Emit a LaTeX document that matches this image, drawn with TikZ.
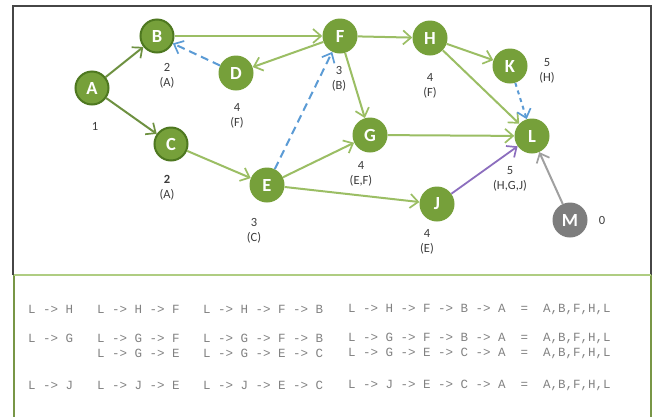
\documentclass[tikz,border=0pt]{standalone}
\usepackage{fontspec}
\setmainfont{Carlito}
\newfontfamily\codefont{Liberation Mono}
\usetikzlibrary{arrows.meta}
\definecolor{nodegreen}{RGB}{118,160,58}
\definecolor{rimgreen}{RGB}{78,120,32}
\definecolor{edgegreen}{RGB}{155,190,100}
\definecolor{edgedark}{RGB}{110,145,65}
\definecolor{linkblue}{RGB}{91,155,213}
\definecolor{linkpurple}{RGB}{140,110,190}
\definecolor{nodegray}{RGB}{125,125,125}
\definecolor{edgegray}{RGB}{160,160,160}
\definecolor{labelgray}{RGB}{60,60,60}
\definecolor{framegray}{RGB}{70,70,70}
\definecolor{boxgreen}{RGB}{120,150,70}
\definecolor{boxlight}{RGB}{175,205,130}
\definecolor{codegray}{RGB}{130,130,130}
\tikzset{
  task/.style={circle, fill=nodegreen, minimum size=35pt, inner sep=0pt,
    text=white, font=\fontsize{18.5}{18}\selectfont\bfseries},
  rimtask/.style={task, draw=rimgreen, line width=2pt, minimum size=33pt},
  greytask/.style={task, fill=nodegray},
  info/.style={font=\fontsize{12.5}{15}\selectfont, text=labelgray, align=center, inner sep=0pt},
  tip/.style={-{Straight Barb[length=8pt,width=14pt,line width=1.7pt]}},
  link/.style={tip, draw=edgegreen, line width=2pt},
  darklink/.style={tip, draw=edgedark, line width=2pt},
  bluelink/.style={tip, draw=linkblue, line width=2pt, dash pattern=on 8pt off 5pt},
  dotlink/.style={tip, draw=linkblue, line width=2pt, dash pattern=on 4pt off 4pt},
  purplelink/.style={tip, draw=linkpurple, line width=1.8pt},
  graylink/.style={tip, draw=edgegray, line width=2pt},
  pathrow/.style={font=\codefont\fontsize{12.5}{13}\selectfont, text=codegray, anchor=west, inner sep=0pt},
}
\begin{document}
\begin{tikzpicture}[x=1pt, y=-1pt]
\useasboundingbox (0,0) rectangle (656,416);
\fill[white] (0,0) rectangle (656,416);

% frames
\draw[framegray, line width=2.2pt] (13,275) -- (13,6) -- (651,6) -- (651,275);
\draw[boxgreen, line width=2.2pt] (14,420) -- (14,275) (651,275) -- (651,420);
\draw[boxlight, line width=2.5pt] (14,275) -- (651,275);

% tasks
\node[rimtask]  (A) at (92,88)   {A};
\node[rimtask]  (B) at (157,36)  {B};
\node[rimtask]  (C) at (171,144) {C};
\node[task]     (D) at (236,73)  {D};
\node[task]     (E) at (267,185) {E};
\node[task]     (F) at (340,36)  {F};
\node[task]     (H) at (430,38)  {H};
\node[task]     (K) at (510,66)  {K};
\node[task]     (G) at (370,135) {G};
\node[task]     (L) at (532,136) {L};
\node[task]     (J) at (437,204) {J};
\node[greytask] (M) at (570,220) {M};

% durations and predecessors
\node[info] (tA) at (95,126)  {1};
\node[info] (tB) at (167,76)  {2\\(A)};
\node[info] (tC) at (167,188) {\textbf{2}\\(A)};
\node[info] (tD) at (237,116) {4\\(F)};
\node[info] (tE) at (254,231) {3\\(C)};
\node[info] (tF) at (339,79)  {3\\(B)};
\node[info] (tH) at (430,86)  {4\\(F)};
\node[info] (tK) at (547,71)  {5\\(H)};
\node[info] (tG) at (361,174) {4\\(E,F)};
\node[info] (tL) at (510,179) {5\\(H,G,J)};
\node[info] (tJ) at (427,242) {4\\(E)};
\node[info] (tM) at (602,220) {0};

% dependencies
\draw[darklink] (A) -- (B);
\draw[darklink] (A) -- (C);
\draw[link] (B) -- (F);
\draw[link] (F) -- (D);
\draw[bluelink] (D) -- (B);
\draw[link] (C) -- (E);
\draw[bluelink] (E) -- (F);
\draw[link] (E) -- (G);
\draw[link] (E) -- (J);
\draw[link] (F) -- (H);
\draw[link] (F) -- (G);
\draw[link] (H) -- (K);
\draw[link] (H) -- (L);
\draw[link] (G) -- (L);
\draw[purplelink] (J) -- (L);
\draw[dotlink] (K) -- (L);
\draw[graylink] (M) -- (L);

% backward paths from L
\node[pathrow] (r1a) at (28,309)  {L -> H};
\node[pathrow] (r1b) at (97,309)  {L -> H -> F};
\node[pathrow] (r1c) at (203,309) {L -> H -> F -> B};
\node[pathrow] (r1d) at (348,309) {L -> H -> F -> B -> A \ = \ A,B,F,H,L};
\node[pathrow] (r2a) at (28,338)  {L -> G};
\node[pathrow] (r2b) at (97,338)  {L -> G -> F};
\node[pathrow] (r2c) at (203,338) {L -> G -> F -> B};
\node[pathrow] (r2d) at (348,338) {L -> G -> F -> B -> A \ = \ A,B,F,H,L};
\node[pathrow] (r3b) at (97,353)  {L -> G -> E};
\node[pathrow] (r3c) at (203,353) {L -> G -> E -> C};
\node[pathrow] (r3d) at (348,353) {L -> G -> E -> C -> A \ = \ A,B,F,H,L};
\node[pathrow] (r4a) at (28,385)  {L -> J};
\node[pathrow] (r4b) at (97,385)  {L -> J -> E};
\node[pathrow] (r4c) at (203,385) {L -> J -> E -> C};
\node[pathrow] (r4d) at (348,385) {L -> J -> E -> C -> A \ = \ A,B,F,H,L};
\end{tikzpicture}
\end{document}
